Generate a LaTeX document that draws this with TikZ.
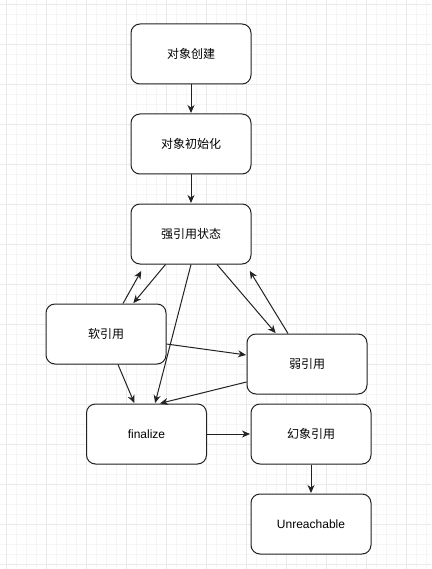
\documentclass[tikz,border=0pt]{standalone}
\usepackage{fontspec}
\setmainfont{Liberation Sans}
\newfontfamily\cjk{Noto Sans CJK SC}
\usetikzlibrary{arrows.meta}
\definecolor{cminor}{HTML}{F5F5F5}
\definecolor{cmajor}{HTML}{EAEAEA}
\definecolor{cline}{HTML}{222222}
\tikzset{
  every picture/.style={font=\fontsize{12}{14}\selectfont, line width=1pt},
  box/.style={draw=cline, fill=white, rounded corners=9pt, align=center, minimum width=120pt, minimum height=60pt, inner sep=0pt},
  zh/.style={box, font=\cjk\fontsize{12}{14}\selectfont},
  arrow/.style={-{Stealth[length=8pt, width=7pt, inset=2.5pt]}, draw=cline, line width=1pt, shorten >=0.5pt},
}

\begin{document}
\begin{tikzpicture}[x=1pt, y=-1pt]
  \useasboundingbox (0,0) rectangle (431,569);

  % ---- grid
  \foreach \gx in {6.5,16.5,...,431} \draw[cminor, line width=0.8pt] (\gx,0) -- (\gx,569);
  \foreach \gy in {4,14,...,569} \draw[cminor, line width=0.8pt] (0,\gy) -- (431,\gy);
  \foreach \gx in {6.5,46.5,...,431} \draw[cmajor, line width=0.8pt] (\gx,0) -- (\gx,569);
  \foreach \gy in {4,44,...,569} \draw[cmajor, line width=0.8pt] (0,\gy) -- (431,\gy);

  % ---- states
  \node[zh] (create)  at (191,54)    {对象创建};
  \node[zh] (init)    at (191,144)   {对象初始化};
  \node[zh] (strong)  at (191,234)   {强引用状态};
  \node[zh] (soft)    at (106,334)   {软引用};
  \node[zh] (weak)    at (307,364)   {弱引用};
  \node[box] (fin)    at (146.5,434) {finalize};
  \node[zh] (phantom) at (311,434)   {幻象引用};
  \node[box] (unreach) at (311,524)  {Unreachable};

  % main line
  \draw[arrow] (create.south) -- (init.north);
  \draw[arrow] (init.south) -- (strong.north);

  % strong <-> soft / weak
  \draw[arrow] ([xshift=35pt]strong.south west) -- ([xshift=27pt]soft.north);
  \draw[arrow] ([xshift=17pt]soft.north) -- ([xshift=11pt, yshift=-6pt]strong.south west);
  \draw[arrow] ([xshift=26pt]strong.south) -- ([xshift=-31pt]weak.north);
  \draw[arrow] ([xshift=-19pt]weak.north) -- ([xshift=-2pt, yshift=-6pt]strong.south east);
  \draw[arrow] ([yshift=-10pt]soft.east) -- ([yshift=9pt]weak.west);

  % to finalize
  \draw[arrow] (strong.south) -- ([xshift=8.5pt]fin.north);
  \draw[arrow] ([xshift=12pt]soft.south) -- ([xshift=-12pt]fin.north);
  \draw[arrow] ([yshift=-18pt]weak.west) -- ([xshift=13pt]fin.north);

  % end
  \draw[arrow] (fin.east) -- (phantom.west);
  \draw[arrow] (phantom.south) -- (unreach.north);
\end{tikzpicture}
\end{document}
